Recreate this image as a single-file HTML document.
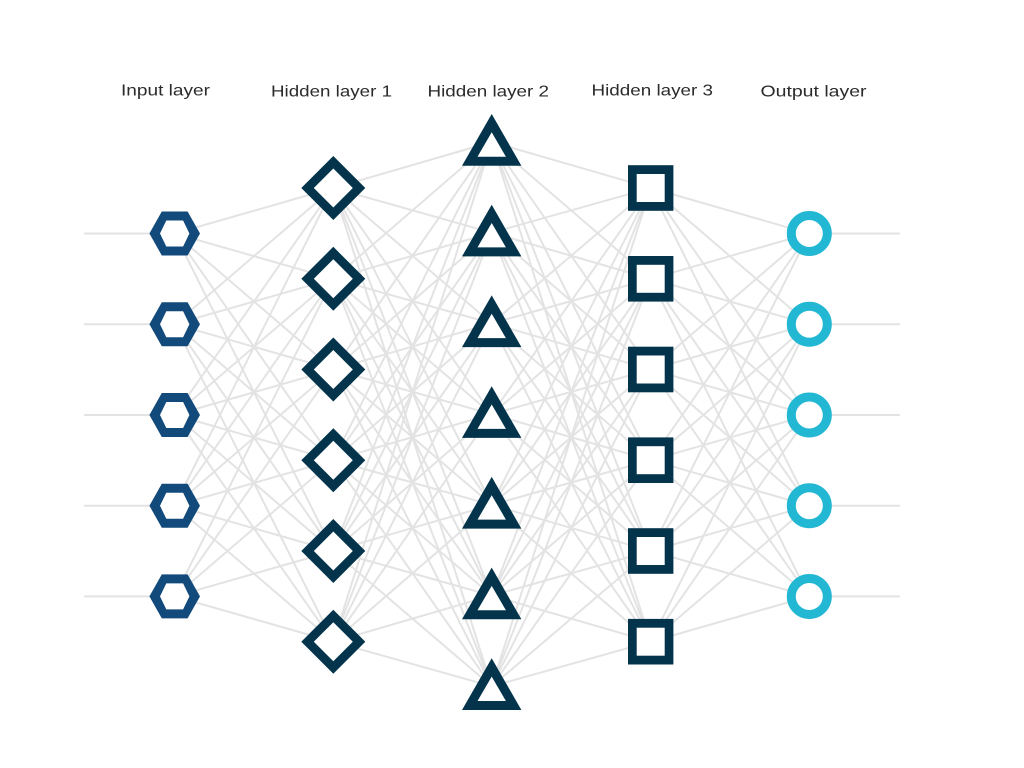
<!DOCTYPE html>
<html lang="en">
<head>
<meta charset="utf-8">
<title>Neural network diagram</title>
<style>
html,body{margin:0;padding:0;background:#fff;}
svg{display:block;}
text{font-family:"Liberation Sans",sans-serif;font-size:16px;fill:#2b2b2b;}
</style>
</head>
<body>
<svg width="1024" height="768" viewBox="0 0 1024 768" xmlns="http://www.w3.org/2000/svg">
<rect width="1024" height="768" fill="#fff"/>
<g fill="none" stroke="#e3e3e3" stroke-width="2">
<path d="M84 233.5H175M84 324.2H175M84 415H175M84 505.7H175M84 596.4H175"/>
<path d="M809 233.5H900M809 324.2H900M809 415H900M809 505.7H900M809 596.4H900"/>
<path d="M174.7 233.5L333.3 188M174.7 233.5L333.3 278.8M174.7 233.5L333.3 369.5M174.7 233.5L333.3 460.2M174.7 233.5L333.3 551"/>
<path d="M174.7 324.2L333.3 188M174.7 324.2L333.3 278.8M174.7 324.2L333.3 369.5M174.7 324.2L333.3 460.2M174.7 324.2L333.3 551M174.7 324.2L333.3 641.7"/>
<path d="M174.7 415L333.3 188M174.7 415L333.3 278.8M174.7 415L333.3 369.5M174.7 415L333.3 460.2M174.7 415L333.3 551M174.7 415L333.3 641.7"/>
<path d="M174.7 505.7L333.3 188M174.7 505.7L333.3 278.8M174.7 505.7L333.3 369.5M174.7 505.7L333.3 460.2M174.7 505.7L333.3 551M174.7 505.7L333.3 641.7"/>
<path d="M174.7 596.4L333.3 278.8M174.7 596.4L333.3 369.5M174.7 596.4L333.3 460.2M174.7 596.4L333.3 551M174.7 596.4L333.3 641.7"/>
<path d="M333.3 188L491.7 142M333.3 188L491.7 232.7M333.3 188L491.7 323.4M333.3 188L491.7 414.2M333.3 188L491.7 504.9M333.3 188L491.7 595.6M333.3 188L491.7 686.3"/>
<path d="M333.3 278.8L491.7 142M333.3 278.8L491.7 232.7M333.3 278.8L491.7 323.4M333.3 278.8L491.7 414.2M333.3 278.8L491.7 504.9M333.3 278.8L491.7 595.6M333.3 278.8L491.7 686.3"/>
<path d="M333.3 369.5L491.7 142M333.3 369.5L491.7 232.7M333.3 369.5L491.7 323.4M333.3 369.5L491.7 414.2M333.3 369.5L491.7 504.9M333.3 369.5L491.7 595.6M333.3 369.5L491.7 686.3"/>
<path d="M333.3 460.2L491.7 142M333.3 460.2L491.7 232.7M333.3 460.2L491.7 323.4M333.3 460.2L491.7 414.2M333.3 460.2L491.7 504.9M333.3 460.2L491.7 595.6M333.3 460.2L491.7 686.3"/>
<path d="M333.3 551L491.7 142M333.3 551L491.7 232.7M333.3 551L491.7 323.4M333.3 551L491.7 414.2M333.3 551L491.7 504.9M333.3 551L491.7 595.6M333.3 551L491.7 686.3"/>
<path d="M333.3 641.7L491.7 142M333.3 641.7L491.7 232.7M333.3 641.7L491.7 323.4M333.3 641.7L491.7 414.2M333.3 641.7L491.7 504.9M333.3 641.7L491.7 595.6M333.3 641.7L491.7 686.3"/>
<path d="M650.7 188L491.7 142M650.7 188L491.7 232.7M650.7 188L491.7 323.4M650.7 188L491.7 414.2M650.7 188L491.7 504.9M650.7 188L491.7 595.6M650.7 188L491.7 686.3"/>
<path d="M650.7 278.8L491.7 142M650.7 278.8L491.7 232.7M650.7 278.8L491.7 323.4M650.7 278.8L491.7 414.2M650.7 278.8L491.7 504.9M650.7 278.8L491.7 595.6M650.7 278.8L491.7 686.3"/>
<path d="M650.7 369.5L491.7 142M650.7 369.5L491.7 232.7M650.7 369.5L491.7 323.4M650.7 369.5L491.7 414.2M650.7 369.5L491.7 504.9M650.7 369.5L491.7 595.6M650.7 369.5L491.7 686.3"/>
<path d="M650.7 460.2L491.7 142M650.7 460.2L491.7 232.7M650.7 460.2L491.7 323.4M650.7 460.2L491.7 414.2M650.7 460.2L491.7 504.9M650.7 460.2L491.7 595.6M650.7 460.2L491.7 686.3"/>
<path d="M650.7 551L491.7 142M650.7 551L491.7 232.7M650.7 551L491.7 323.4M650.7 551L491.7 414.2M650.7 551L491.7 504.9M650.7 551L491.7 595.6M650.7 551L491.7 686.3"/>
<path d="M650.7 641.7L491.7 142M650.7 641.7L491.7 232.7M650.7 641.7L491.7 323.4M650.7 641.7L491.7 414.2M650.7 641.7L491.7 504.9M650.7 641.7L491.7 595.6M650.7 641.7L491.7 686.3"/>
<path d="M650.7 188L809 233.5M650.7 188L809 324.2M650.7 188L809 415M650.7 188L809 505.7"/>
<path d="M650.7 278.8L809 233.5M650.7 278.8L809 324.2M650.7 278.8L809 415M650.7 278.8L809 505.7M650.7 278.8L809 596.4"/>
<path d="M650.7 369.5L809 233.5M650.7 369.5L809 324.2M650.7 369.5L809 415M650.7 369.5L809 505.7M650.7 369.5L809 596.4"/>
<path d="M650.7 460.2L809 233.5M650.7 460.2L809 324.2M650.7 460.2L809 415M650.7 460.2L809 505.7M650.7 460.2L809 596.4"/>
<path d="M650.7 551L809 233.5M650.7 551L809 324.2M650.7 551L809 415M650.7 551L809 505.7M650.7 551L809 596.4"/>
<path d="M650.7 641.7L809 324.2M650.7 641.7L809 415M650.7 641.7L809 505.7M650.7 641.7L809 596.4"/>
</g>
<defs>
<g id="hex"><polygon points="-25.3,0 -12.9,-22 12.9,-22 25.3,0 12.9,22 -12.9,22" fill="#134a7c"/><polygon points="-14.7,0 -8.4,-13 8.4,-13 14.7,0 8.4,13 -8.4,13" fill="#fff"/></g>
<g id="dia"><polygon points="-32,0 0,-32 32,0 0,32" fill="#03344c"/><polygon points="-19.5,0 0,-19.5 19.5,0 0,19.5" fill="#fff"/></g>
<g id="tri"><polygon points="0,-28 29.7,23.7 -29.7,23.7" fill="#03344c"/><polygon points="0,-9.7 14.2,14.7 -14.2,14.7" fill="#fff"/></g>
<g id="sq"><rect x="-22.7" y="-22.8" width="45.4" height="45.6" fill="#03344c"/><rect x="-14" y="-14" width="28" height="28" fill="#fff"/></g>
<circle id="cir" r="18" fill="#fff" stroke="#22b7d3" stroke-width="9"/>
</defs>
<use href="#hex" x="174.7" y="233.5"/><use href="#hex" x="174.7" y="324.2"/><use href="#hex" x="174.7" y="415"/><use href="#hex" x="174.7" y="505.7"/><use href="#hex" x="174.7" y="596.4"/>
<use href="#dia" x="333.3" y="188"/><use href="#dia" x="333.3" y="278.8"/><use href="#dia" x="333.3" y="369.5"/><use href="#dia" x="333.3" y="460.2"/><use href="#dia" x="333.3" y="551"/><use href="#dia" x="333.3" y="641.7"/>
<use href="#tri" x="491.7" y="142"/><use href="#tri" x="491.7" y="232.7"/><use href="#tri" x="491.7" y="323.4"/><use href="#tri" x="491.7" y="414.2"/><use href="#tri" x="491.7" y="504.9"/><use href="#tri" x="491.7" y="595.6"/><use href="#tri" x="491.7" y="686.3"/>
<use href="#sq" x="650.7" y="188"/><use href="#sq" x="650.7" y="278.8"/><use href="#sq" x="650.7" y="369.5"/><use href="#sq" x="650.7" y="460.2"/><use href="#sq" x="650.7" y="551"/><use href="#sq" x="650.7" y="641.7"/>
<use href="#cir" x="809.3" y="233.5"/><use href="#cir" x="809.3" y="324.2"/><use href="#cir" x="809.3" y="415"/><use href="#cir" x="809.3" y="505.7"/><use href="#cir" x="809.3" y="596.5"/>
<text x="121" y="95.3" textLength="89" lengthAdjust="spacingAndGlyphs">Input layer</text>
<text x="271" y="96.5" textLength="121" lengthAdjust="spacingAndGlyphs">Hidden layer 1</text>
<text x="427.5" y="96.5" textLength="121.5" lengthAdjust="spacingAndGlyphs">Hidden layer 2</text>
<text x="591.5" y="95.5" textLength="121.5" lengthAdjust="spacingAndGlyphs">Hidden layer 3</text>
<text x="760.5" y="96.5" textLength="106" lengthAdjust="spacingAndGlyphs">Output layer</text>
</svg>
</body>
</html>
